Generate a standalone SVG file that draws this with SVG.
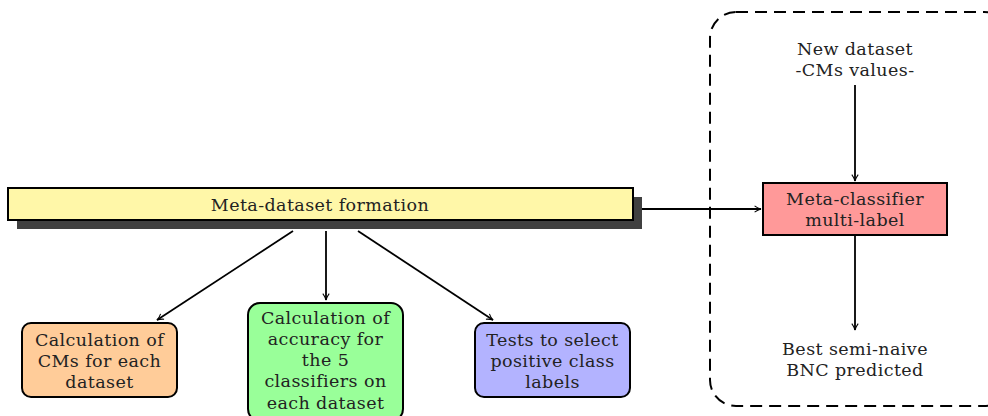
<svg xmlns="http://www.w3.org/2000/svg" width="988" height="416" viewBox="0 0 988 416">
<defs>
<marker id="arr" viewBox="0 0 10 10" refX="9" refY="5" markerWidth="8" markerHeight="8" markerUnits="userSpaceOnUse" orient="auto">
<path d="M1,1 Q5,4 9,5 Q5,6 1,9" fill="none" stroke="#000" stroke-width="1.3"/>
</marker>
<style>
text{font-family:"DejaVu Serif","Liberation Serif",serif;font-size:17.5px;letter-spacing:0.4px;fill:#222;text-anchor:middle}
.box{stroke:#000;stroke-width:2}
.c{stroke:#000;stroke-width:1.8;fill:none;marker-end:url(#arr)}
</style>
</defs>
<rect x="710" y="12" width="300" height="394" rx="26" fill="none" stroke="#000" stroke-width="2" stroke-dasharray="12,7"/>
<g id="meta-dataset">
<rect x="17" y="197" width="625" height="32" fill="#404040"/>
<rect class="box" x="8" y="188" width="625" height="32" fill="#fff7a8"/>
<text x="320" y="211">Meta-dataset formation</text>
</g>
<g id="cms">
<rect class="box" x="22" y="323" width="155" height="74" rx="9" fill="#ffcc99"/>
<text x="99.5" y="346">Calculation of</text>
<text x="99.5" y="367">CMs for each</text>
<text x="99.5" y="388">dataset</text>
</g>
<g id="accuracy">
<rect class="box" x="248" y="303" width="155" height="118" rx="12" fill="#99ff99"/>
<text x="325.5" y="324">Calculation of</text>
<text x="325.5" y="345">accuracy for</text>
<text x="325.5" y="366">the 5</text>
<text x="325.5" y="387">classifiers on</text>
<text x="325.5" y="409">each dataset</text>
</g>
<g id="tests">
<rect class="box" x="475" y="323" width="155" height="74" rx="9" fill="#b3b3ff"/>
<text x="552.5" y="346">Tests to select</text>
<text x="552.5" y="367">positive class</text>
<text x="552.5" y="388">labels</text>
</g>
<g id="new-dataset">
<text x="855" y="55">New dataset</text>
<text x="855" y="76">-CMs values-</text>
</g>
<g id="meta-classifier">
<rect class="box" x="763" y="183" width="184" height="52" fill="#ff9999"/>
<text x="855" y="205">Meta-classifier</text>
<text x="855" y="226">multi-label</text>
</g>
<g id="best">
<text x="855" y="355">Best semi-naive</text>
<text x="855" y="376">BNC predicted</text>
</g>
<g id="connectors">
<path class="c" d="M293,231 L157,320"/>
<path class="c" d="M326,231 L326,300"/>
<path class="c" d="M358,231 L493,320"/>
<path class="c" d="M642,209 L761,209"/>
<path class="c" d="M855,85 L855,181"/>
<path class="c" d="M855,235 L855,330"/>
</g>
</svg>
